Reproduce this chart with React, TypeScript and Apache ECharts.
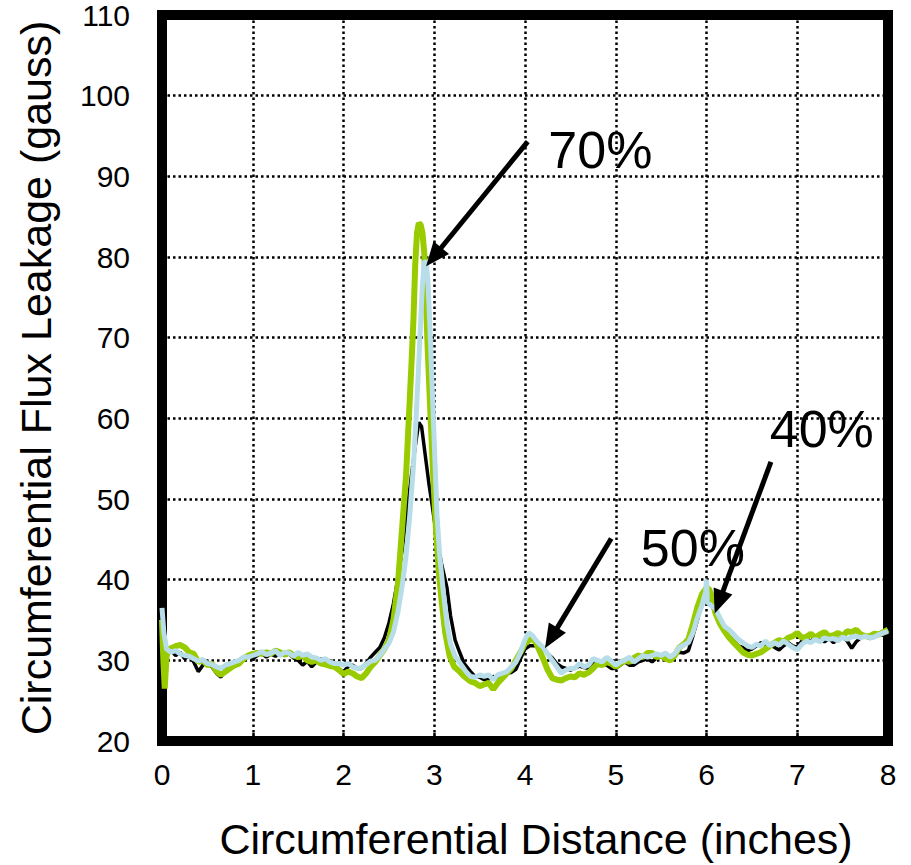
import React, { useEffect, useRef } from "react";
import * as echarts from "echarts";

// Circumferential distance (inches) / flux leakage (gauss)
const blackSeries: [number, number][] = [
  [0, 34], [0.03, 31.5], [0.06, 31], [0.1, 31.2], [0.15, 30.6], [0.2, 31], [0.25, 30.2], [0.3, 30.6], [0.35, 29.8],
  [0.4, 28.6], [0.45, 29.4], [0.5, 29.8], [0.55, 29.2], [0.6, 28.4], [0.65, 27.9], [0.7, 29], [0.75, 29.6], [0.8, 29.2],
  [0.85, 29.8], [0.9, 30.2], [0.95, 30.5], [1, 30.2], [1.05, 30.6], [1.1, 30.9], [1.15, 30.4], [1.2, 30.8], [1.25, 30.5],
  [1.3, 30.9], [1.35, 30.6], [1.4, 30.8], [1.45, 30.3], [1.5, 30], [1.55, 29.4], [1.6, 29.9], [1.65, 29.2], [1.7, 29.8],
  [1.75, 30.2], [1.8, 29.6], [1.85, 30], [1.9, 29.6], [1.95, 28.9], [2, 28.6], [2.05, 29.2], [2.1, 29.4], [2.15, 29],
  [2.2, 29], [2.25, 29.6], [2.3, 30.4], [2.35, 31], [2.4, 31.6], [2.45, 32.8], [2.5, 34.6], [2.55, 37], [2.6, 40.2],
  [2.65, 44], [2.7, 48.5], [2.75, 53], [2.79, 56.5], [2.83, 59.5], [2.86, 59], [2.9, 55.5], [2.94, 52], [2.98, 49],
  [3.03, 45], [3.08, 42], [3.14, 39], [3.18, 35.5], [3.23, 32.5], [3.28, 31], [3.33, 29.6], [3.4, 28.6], [3.45, 28],
  [3.5, 27.9], [3.55, 27.6], [3.6, 27.7], [3.65, 28], [3.7, 27.8], [3.75, 28.2], [3.8, 28.4], [3.85, 28.5], [3.9, 28.9],
  [3.95, 30.2], [4, 31.4], [4.05, 31.8], [4.1, 31.8], [4.15, 32], [4.2, 31.5], [4.25, 30.8], [4.3, 30.3], [4.35, 29.6],
  [4.4, 29.2], [4.45, 29], [4.5, 28.8], [4.55, 29], [4.6, 29.3], [4.65, 29.1], [4.7, 29], [4.75, 29.6], [4.8, 30],
  [4.85, 29.6], [4.9, 29.4], [4.95, 29], [5, 29], [5.05, 29.4], [5.1, 29.8], [5.15, 29.4], [5.2, 29.4], [5.25, 29.8],
  [5.3, 30], [5.35, 30.2], [5.4, 29.8], [5.45, 30.3], [5.5, 30.6], [5.55, 30.4], [5.6, 30.5], [5.65, 30.8], [5.7, 31],
  [5.75, 30.9], [5.8, 31.2], [5.85, 33], [5.9, 35], [5.95, 37.2], [6, 38.3], [6.03, 37.6], [6.07, 36.6], [6.1, 35.6],
  [6.15, 34.6], [6.2, 33.8], [6.25, 33], [6.3, 32.4], [6.35, 31.8], [6.4, 31.6], [6.45, 31.2], [6.5, 31.4], [6.55, 31.8],
  [6.6, 32.2], [6.65, 31.9], [6.7, 32], [6.75, 31.6], [6.8, 31.3], [6.85, 31.8], [6.9, 32.2], [6.95, 31.8], [7, 31.6],
  [7.05, 32.4], [7.1, 32.6], [7.15, 32.4], [7.2, 32.8], [7.25, 32.6], [7.3, 32.3], [7.35, 32.7], [7.4, 32.2], [7.45, 32.6],
  [7.5, 32.9], [7.55, 32.4], [7.6, 31.5], [7.65, 32.3], [7.7, 32.8], [7.75, 33], [7.8, 32.7], [7.85, 32.9], [7.9, 33.2],
  [7.95, 33.1], [8, 33.4],
];

const greenSeries: [number, number][] = [
  [0, 35], [0.015, 30], [0.03, 26.5], [0.05, 30.5], [0.08, 31.4], [0.12, 31.6], [0.16, 31.8], [0.2, 31.9], [0.25, 31.6],
  [0.3, 31], [0.35, 30.8], [0.4, 29.8], [0.45, 30], [0.5, 29.4], [0.55, 29.6], [0.6, 28.6], [0.65, 28.2], [0.7, 28.6],
  [0.75, 29], [0.8, 29.4], [0.85, 29.6], [0.9, 30.2], [0.95, 30.6], [1, 30.8], [1.05, 30.9], [1.1, 30.8], [1.15, 31],
  [1.2, 30.8], [1.25, 31.2], [1.3, 31], [1.35, 30.7], [1.4, 31], [1.45, 30.6], [1.5, 30.4], [1.55, 30.6], [1.6, 30],
  [1.65, 29.8], [1.7, 30], [1.75, 29.6], [1.8, 29.5], [1.85, 29.3], [1.9, 29.2], [1.95, 28.8], [2, 28.3], [2.05, 28.6],
  [2.1, 28.4], [2.15, 28], [2.2, 27.8], [2.25, 28.4], [2.3, 29.2], [2.35, 29.8], [2.4, 30.6], [2.45, 31.4], [2.5, 32.5],
  [2.55, 35], [2.6, 39.5], [2.65, 47], [2.69, 53], [2.72, 60], [2.75, 67], [2.77, 72], [2.79, 79], [2.81, 83],
  [2.83, 84.2], [2.85, 84], [2.87, 83], [2.89, 80.5], [2.91, 74], [2.93, 68], [2.96, 60], [2.99, 52.5], [3.02, 46],
  [3.05, 41], [3.08, 37.5], [3.12, 33.5], [3.17, 30.5], [3.22, 29.2], [3.28, 28.6], [3.33, 28], [3.4, 27.4], [3.45, 27.2],
  [3.5, 26.8], [3.55, 27], [3.6, 27.2], [3.65, 26.4], [3.7, 27.2], [3.75, 27.8], [3.8, 28.4], [3.85, 29], [3.9, 30],
  [3.95, 31], [4, 32.1], [4.05, 32.5], [4.08, 32.8], [4.12, 32.2], [4.16, 31.2], [4.2, 30.2], [4.25, 28.8], [4.3, 27.8],
  [4.35, 27.6], [4.4, 27.5], [4.45, 27.8], [4.5, 28], [4.55, 27.9], [4.6, 28.4], [4.65, 28.2], [4.7, 28.5], [4.75, 29],
  [4.8, 29.6], [4.85, 29.4], [4.9, 29.8], [4.95, 29.6], [5, 29.2], [5.05, 29.6], [5.1, 30], [5.15, 29.8], [5.2, 30.3],
  [5.25, 30.6], [5.3, 30.4], [5.35, 30.9], [5.4, 30.9], [5.45, 30.4], [5.5, 30.6], [5.55, 30.2], [5.6, 30], [5.65, 30.6],
  [5.7, 31.6], [5.75, 32], [5.8, 32.6], [5.85, 34.5], [5.9, 36.6], [5.95, 38.2], [6, 39], [6.03, 38.8], [6.06, 37.8],
  [6.1, 35.8], [6.15, 34.5], [6.2, 33.6], [6.25, 32.8], [6.3, 32.2], [6.35, 31.6], [6.4, 31], [6.45, 30.7], [6.5, 30.6],
  [6.55, 30.8], [6.6, 31], [6.65, 31.4], [6.7, 31.8], [6.75, 32.2], [6.8, 32.5], [6.85, 32.3], [6.9, 32.8], [6.95, 33],
  [7, 33.4], [7.05, 32.8], [7.1, 32.9], [7.15, 33.3], [7.2, 32.8], [7.25, 33.2], [7.3, 33.5], [7.35, 33], [7.4, 33.1],
  [7.45, 33.4], [7.5, 33], [7.55, 33.6], [7.6, 33.5], [7.65, 33.8], [7.7, 33.2], [7.75, 33], [7.8, 33], [7.85, 33.3],
  [7.9, 33.2], [7.95, 33.5], [8, 33.8],
];

const blueSeries: [number, number][] = [
  [0, 36.5], [0.02, 33.5], [0.05, 31.4], [0.1, 31], [0.15, 31.2], [0.2, 30.8], [0.25, 30.6], [0.3, 30.5], [0.35, 30.2],
  [0.4, 29.9], [0.45, 30.1], [0.5, 29.6], [0.55, 29.5], [0.6, 29.2], [0.65, 29], [0.7, 29.4], [0.75, 29.6], [0.8, 29.8],
  [0.85, 30], [0.9, 30.4], [0.95, 30.4], [1, 30.6], [1.05, 30.8], [1.1, 31.1], [1.15, 30.7], [1.2, 30.9], [1.25, 31.2],
  [1.3, 30.6], [1.35, 31], [1.4, 30.9], [1.45, 30.5], [1.5, 31], [1.55, 30.6], [1.6, 30.8], [1.65, 30.4], [1.7, 30.3],
  [1.75, 30], [1.8, 30.2], [1.85, 29.8], [1.9, 29.6], [1.95, 29.6], [2, 29.4], [2.05, 29.6], [2.1, 29.2], [2.15, 29],
  [2.2, 29.1], [2.25, 29.5], [2.3, 29.9], [2.35, 30], [2.4, 30.6], [2.45, 31.4], [2.5, 32.1], [2.55, 33.5], [2.6, 36],
  [2.65, 39.5], [2.69, 43], [2.73, 48], [2.77, 54], [2.8, 60], [2.83, 67], [2.85, 72], [2.87, 76.5], [2.89, 79.3],
  [2.91, 79.5], [2.93, 77], [2.95, 72], [2.97, 66], [2.99, 60], [3.01, 54], [3.03, 48], [3.06, 43], [3.1, 38.5],
  [3.14, 34.5], [3.18, 32], [3.23, 30.5], [3.3, 29.4], [3.35, 28.6], [3.4, 28], [3.45, 27.9], [3.5, 28.2], [3.55, 28],
  [3.6, 28.2], [3.65, 27.6], [3.7, 28.2], [3.75, 28.4], [3.8, 28.6], [3.85, 29.2], [3.9, 29.8], [3.95, 31], [4, 32.6],
  [4.04, 33.4], [4.08, 33.1], [4.12, 32.5], [4.16, 32], [4.2, 31.6], [4.25, 30.8], [4.3, 30], [4.35, 29.2], [4.4, 28.4],
  [4.45, 28.8], [4.5, 29], [4.55, 29], [4.6, 29.6], [4.65, 29.2], [4.7, 29.4], [4.75, 30.2], [4.8, 30], [4.85, 29.8],
  [4.9, 30.4], [4.95, 29.9], [5, 29.4], [5.05, 29.8], [5.1, 30], [5.15, 30.4], [5.2, 29.8], [5.25, 30.2], [5.3, 30.6],
  [5.35, 30.4], [5.4, 30.6], [5.45, 30.8], [5.5, 30.6], [5.55, 30.9], [5.6, 30.4], [5.65, 30.8], [5.7, 31.6], [5.75, 31.9],
  [5.8, 32.2], [5.85, 33.4], [5.9, 35.3], [5.95, 36.8], [5.99, 38.5], [6, 40], [6.01, 37.2], [6.05, 36.8], [6.1, 36.4],
  [6.15, 35.2], [6.2, 34.2], [6.25, 33.8], [6.3, 33.2], [6.35, 32.6], [6.4, 32.2], [6.45, 31.8], [6.5, 31.6], [6.55, 32],
  [6.6, 31.8], [6.65, 32.4], [6.7, 31.8], [6.75, 32.2], [6.8, 31.9], [6.85, 32.4], [6.9, 32], [6.95, 31.6], [7, 31.3],
  [7.05, 32], [7.1, 32.4], [7.15, 32.2], [7.2, 32.6], [7.25, 32.3], [7.3, 32.8], [7.35, 32.6], [7.4, 32.7], [7.45, 32.4],
  [7.5, 32.9], [7.55, 32.6], [7.6, 32.9], [7.65, 33], [7.7, 32.8], [7.75, 33], [7.8, 32.8], [7.85, 32.9], [7.9, 33.2],
  [7.95, 33.4], [8, 33.6],
];

// Annotations: label text, label anchor, arrow tail, arrow tip (data coordinates)
const annoLabels = ["70%", "50%", "40%"];
const annoLabelAt: [number, number][] = [[4.83, 93.3], [5.85, 43.9], [7.27, 58.7]];
const arrowFrom: [number, number][] = [[4.03, 94.3], [4.95, 45.1], [6.71, 54.6]];
const arrowTo: [number, number][] = [[2.91, 78.85], [4.22, 31.5], [6.09, 35.8]];

const FONT = '"Liberation Sans", Arial, sans-serif';

export default function App() {
  const ref = useRef<HTMLDivElement>(null);
  useEffect(() => {
    document.body.style.margin = "0";
    const chart = echarts.init(ref.current!, null, { renderer: "svg" });
    chart.setOption({
      animation: false,
      backgroundColor: "#fff",
      textStyle: { fontFamily: FONT },
      grid: {
        left: 162, top: 13, width: 726, height: 728,
        show: true, borderColor: "#000", borderWidth: 10, backgroundColor: "transparent",
      },
      xAxis: {
        type: "value", min: 0, max: 8, interval: 1,
        name: "Circumferential Distance (inches)", nameLocation: "middle", nameGap: 76,
        nameTextStyle: { fontSize: 43, color: "#000", fontFamily: FONT, padding: [0, 0, 0, 22] },
        axisLine: { show: false },
        axisTick: { show: true, inside: true, length: 8, lineStyle: { color: "#000", width: 2.5 } },
        axisLabel: { fontSize: 30, color: "#000", margin: 18, fontFamily: FONT },
        splitLine: { show: true, lineStyle: { color: "#000", width: 2.5, type: [2.5, 3] } },
      },
      yAxis: {
        type: "value", min: 20, max: 110, interval: 10,
        name: "Circumferential Flux Leakage (gauss)", nameLocation: "middle", nameGap: 105,
        nameTextStyle: { fontSize: 43, color: "#000", fontFamily: FONT },
        axisLine: { show: false },
        axisTick: { show: false },
        axisLabel: { fontSize: 30, color: "#000", margin: 32, fontFamily: FONT },
        splitLine: { show: true, lineStyle: { color: "#000", width: 2.5, type: [2.5, 3] } },
      },
      series: [
        { type: "line", data: blackSeries, showSymbol: false, symbol: "none", lineStyle: { color: "#000", width: 3.5 }, itemStyle: { color: "#000" }, z: 2 },
        { type: "line", data: greenSeries, showSymbol: false, symbol: "none", lineStyle: { color: "#99CC00", width: 6 }, itemStyle: { color: "#99CC00" }, z: 3 },
        { type: "line", data: blueSeries, showSymbol: false, symbol: "none", lineStyle: { color: "#B7DDE8", width: 5 }, itemStyle: { color: "#B7DDE8" }, z: 4 },
      ],
    });

    const px = (p: [number, number]) => chart.convertToPixel({ gridIndex: 0 }, p) as number[];
    const graphics: any[] = [];
    arrowFrom.forEach((from, i) => {
      const s = px(from);
      const e = px(arrowTo[i]);
      const dx = e[0] - s[0], dy = e[1] - s[1];
      const L = Math.hypot(dx, dy);
      const ux = dx / L, uy = dy / L;
      const headLen = 24, headW = 10;
      const bx = e[0] - ux * headLen, by = e[1] - uy * headLen;
      graphics.push({
        type: "line", z: 100,
        shape: { x1: s[0], y1: s[1], x2: bx + ux * 4, y2: by + uy * 4 },
        style: { stroke: "#000", lineWidth: 5 },
      });
      graphics.push({
        type: "polygon", z: 100,
        shape: { points: [[e[0], e[1]], [bx - uy * headW, by + ux * headW], [bx + uy * headW, by - ux * headW]] },
        style: { fill: "#000" },
      });
    });
    annoLabels.forEach((t, i) => {
      const p = px(annoLabelAt[i]);
      graphics.push({
        type: "text", z: 100, x: p[0], y: p[1],
        style: { text: t, fontSize: 52, fontFamily: FONT, fill: "#000", align: "center", verticalAlign: "middle" },
      });
    });
    chart.setOption({ graphic: graphics });
    return () => chart.dispose();
  }, []);
  return <div ref={ref} style={{ width: 911, height: 865 }} />;
}
